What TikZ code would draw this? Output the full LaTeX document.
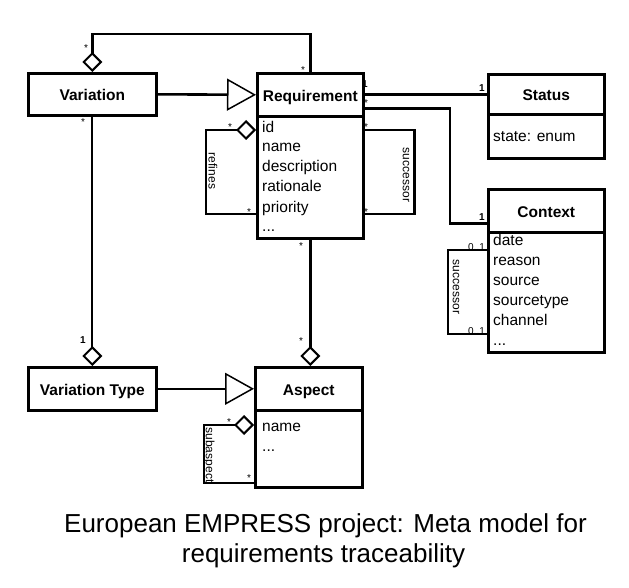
\documentclass[tikz,border=0pt]{standalone}
\usepackage{fontspec}
\setmainfont{Liberation Sans}
\usetikzlibrary{arrows.meta,calc}

\begin{document}
\begin{tikzpicture}[x=1pt,y=-1pt,
  box/.style={draw, line width=2.6pt, inner sep=0pt, anchor=north west},
  cname/.style={box, font=\fontsize{15.5}{18}\selectfont\bfseries, text height=13pt, text depth=0pt},
  attrs/.style={anchor=base west, inner sep=0pt, align=left, font=\fontsize{15.5}{20}\selectfont},
  mult/.style={anchor=base, inner sep=0pt, font=\fontsize{10}{12}\selectfont},
  role/.style={inner sep=0pt, rotate=-90, font=\fontsize{12}{14}\selectfont},
  conn/.style={line width=2.6pt},
  thinconn/.style={line width=2pt},
  dia/.tip={Diamond[open,length=20pt,width=20pt,line width=2pt]},
  gen/.tip={Triangle[open,length=29pt,width=32pt,line width=1.5pt]},
  caption/.style={anchor=base, inner sep=0pt, font=\fontsize{26}{30}\selectfont}
]
\useasboundingbox (0,0) rectangle (629,588);

% classes
\node[cname, minimum width=128pt, minimum height=42pt] (var) at (27,72) {Variation};
\node[cname, minimum width=106pt, minimum height=43pt] (reqh) at (256,72) {Requirement};
\node[box, minimum width=106pt, minimum height=122pt] (reqb) at (256,115) {};
\node[cname, minimum width=116pt, minimum height=40pt] (stath) at (487,73) {Status};
\node[box, minimum width=116pt, minimum height=44pt] (statb) at (487,113) {};
\node[cname, minimum width=116pt, minimum height=43pt] (ctxh) at (487,188) {Context};
\node[box, minimum width=116pt, minimum height=120pt] (ctxb) at (487,231) {};
\node[cname, minimum width=128pt, minimum height=43pt] (vt) at (27,366) {Variation Type};
\node[cname, minimum width=107pt, minimum height=43pt] (asph) at (254,366) {Aspect};
\node[box, minimum width=107pt, minimum height=77pt] (aspb) at (254,409) {};

% attributes (base = baseline of the last line)
\node[attrs] (reqattr) at (262,232) {id\\name\\description\\rationale\\priority\\...};
\node[attrs] (statattr) at (493,142) {state: enum};
\node[attrs] (ctxattr) at (493,345) {date\\reason\\source\\sourcetype\\channel\\...};
\node[attrs] (aspattr) at (262,451) {name\\...};

% generalisations
\draw[conn, -{gen}] (var.east) -- (reqh.west);
\draw[thinconn, -{gen}] (vt.east) -- (asph.west);

% aggregations
\draw[conn, {dia}-] (var.north) -- ++(0,-38) -| (reqh.north);
\draw[thinconn, -{dia}] (var.south) -- (vt.north);
\draw[conn, -{dia}] (reqb.south) -- (reqb.south |- asph.north);

% associations
\draw[conn] (reqh.east) -- (reqh.east -| stath.west);
\draw[conn] ($(reqh.east)+(0,13.5)$) -| ($(ctxh.west)+(-37,12.5)$) -- ($(ctxh.west)+(0,12.5)$);

% self loops
\draw[conn, {dia}-] ($(reqb.north west)+(0,15)$) -- ++(-50,0) |- ($(reqb.north west)+(0,99)$);
\draw[conn] ($(reqb.north east)+(0,15)$) -- ++(50,0) |- ($(reqb.north east)+(0,99)$);
\draw[conn] ($(ctxb.north west)+(0,19)$) -- ++(-39,0) |- ($(ctxb.north west)+(0,103)$);
\draw[conn, {dia}-] ($(aspb.north west)+(0,16)$) -- ++(-50,0) |- ($(aspb.north west)+(0,74)$);

% role names
\node[role] (lrefines) at (213,171) {refines};
\node[role] (lsucc1) at (406,175) {successor};
\node[role] (lsucc2) at (456,287) {successor};
\node[role] (lsub) at (209,455) {subaspect};

% multiplicities
\node[mult] (m1) at (86,51.5) {*};
\node[mult] (m2) at (303,73.5) {*};
\node[mult] (m3) at (83,125.5) {*};
\node[mult] (m4) at (83,343.5) {\bfseries 1};
\node[mult] (m5) at (301,249) {*};
\node[mult] (m6) at (301,344) {*};
\node[mult] (m7) at (230,131) {*};
\node[mult] (m8) at (249,215) {*};
\node[mult] (m9) at (366,131) {*};
\node[mult] (m10) at (366,215) {*};
\node[mult] (m11) at (365,88) {\bfseries 1};
\node[mult] (m12) at (366,106.5) {*};
\node[mult] (m13) at (482,92) {\bfseries 1};
\node[mult] (m14) at (482,220.5) {\bfseries 1};
\node[mult] (m15) at (476.5,251) {0..1};
\node[mult] (m16) at (476.5,334) {0..1};
\node[mult] (m17) at (229,425) {*};
\node[mult] (m18) at (249,481.5) {*};

% caption
\node[caption] (cap1) at (325.5,532) {European EMPRESS project: Meta model for};
\node[caption] (cap2) at (323.5,562) {requirements traceability};
\end{tikzpicture}
\end{document}
